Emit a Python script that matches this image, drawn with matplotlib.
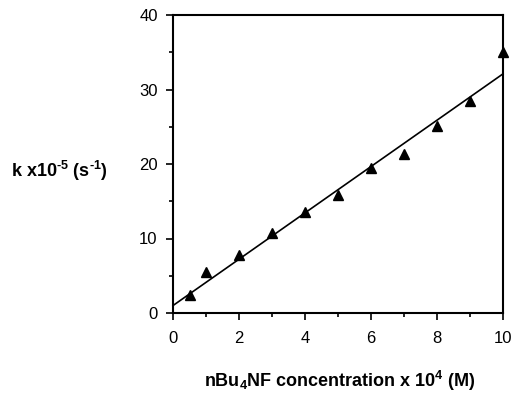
import matplotlib
matplotlib.use("Agg")
import matplotlib.pyplot as plt
import numpy as np

plt.rcParams['font.family'] = ['Liberation Sans', 'DejaVu Sans']
plt.rcParams['mathtext.fontset'] = 'custom'
plt.rcParams['mathtext.rm'] = 'Liberation Sans:bold'
plt.rcParams['mathtext.bf'] = 'Liberation Sans:bold'
plt.rcParams['mathtext.default'] = 'regular'

conc = [0.5, 1, 2, 3, 4, 5, 6, 7, 8, 9, 10]
k_obs = [2.4, 5.5, 7.8, 10.7, 13.5, 15.9, 19.4, 21.3, 25.1, 28.5, 35.1]
fit_intercept = 1.0
fit_slope = 3.11

x_ticks = [0, 2, 4, 6, 8, 10]
y_ticks = [0, 10, 20, 30, 40]

fig = plt.figure(figsize=(5.14, 3.94), dpi=100)
ax = fig.add_axes([173/514, 1-313/394, 330/514, 298/394])

xl = np.array([0, 10])
ax.plot(xl, fit_intercept + fit_slope*xl, color='black', lw=1.2, clip_on=False)
ax.plot(conc, k_obs, linestyle='none', marker='^', color='black', ms=7.5, clip_on=False)

ax.set_xlim(0, 10)
ax.set_ylim(0, 40)
ax.set_xticks(x_ticks)
ax.set_yticks(y_ticks)
ax.set_xticks(np.arange(1, 10, 2), minor=True)
ax.set_yticks(np.arange(5, 40, 10), minor=True)
ax.tick_params(which='major', direction='out', length=5, width=1.2, labelsize=12)
ax.tick_params(which='minor', direction='out', length=3, width=1.2)
ax.tick_params(axis='x', pad=8)
ax.tick_params(axis='y', pad=6)
for s in ax.spines.values():
    s.set_linewidth(1.5)

fig.text(11, 394-177, r'k x10$^{\text{-}5}$ (s$^{\text{-}1}$)', transform=None, ha='left', va='baseline',
         fontsize=13, fontweight='bold')
fig.text(340, 394-387, r'nBu$_{4}$NF concentration x 10$^{4}$ (M)', transform=None,
         ha='center', va='baseline', fontsize=13, fontweight='bold')

fig.savefig('out.png', dpi=100)
